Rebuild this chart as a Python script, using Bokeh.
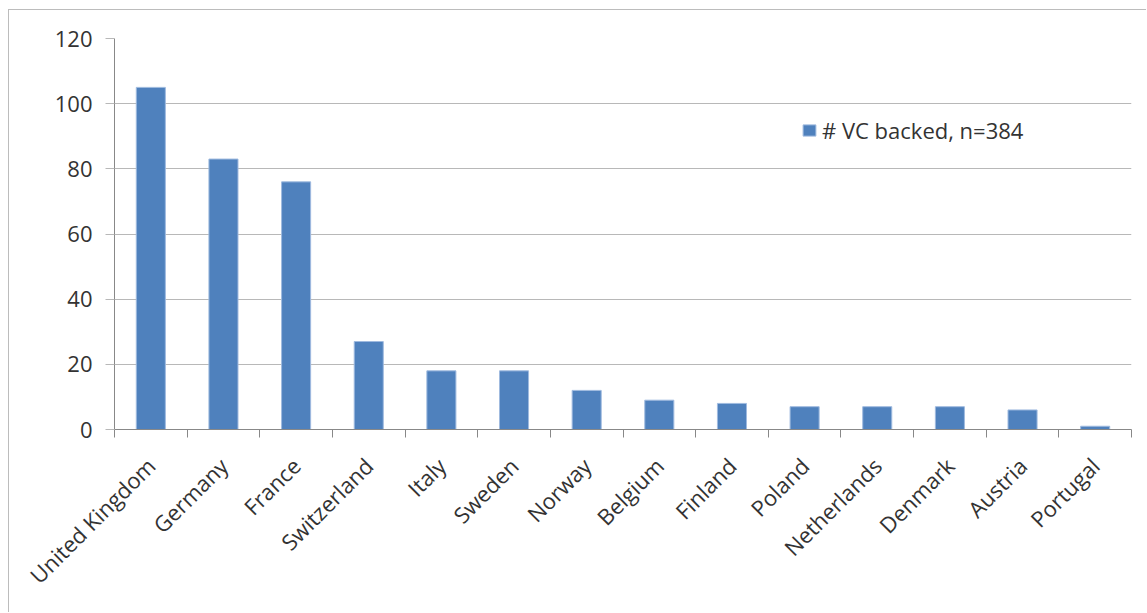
import math
from bokeh.plotting import figure
from bokeh.models import Range1d, FixedTicker, Legend, LegendItem, ColumnDataSource
from bokeh.embed import file_html
from bokeh.resources import INLINE

countries = ["United Kingdom", "Germany", "France", "Switzerland", "Italy", "Sweden",
             "Norway", "Belgium", "Finland", "Poland", "Netherlands", "Denmark",
             "Austria", "Portugal"]
vc_backed = [105, 83, 76, 27, 18, 18, 12, 9, 8, 7, 7, 7, 6, 1]
y_ticks = [0, 20, 40, 60, 80, 100, 120]
series_name = "# VC backed, n=384"

FONT = "Open Sans"
TXT = "#333333"
AXIS = "#888888"
GRID = "#b8b8b8"

n = len(countries)
pos = [i + 0.5 for i in range(n)]
src = ColumnDataSource(dict(x=pos, top=vc_backed, country=countries))

p = figure(width=1138, height=603, x_range=Range1d(0, n), y_range=Range1d(0, 120),
           output_backend="svg", toolbar_location=None,
           min_border_left=105, min_border_top=28, min_border_right=16, min_border_bottom=184)
p.styles = {"margin-left": "8px", "margin-top": "9px",
            "border-left": "1px solid #bcbcbc", "border-top": "1px solid #bcbcbc"}

r = p.vbar(x="x", top="top", width=0.4, source=src,
           fill_color="#4f81bd", line_color="#9fbadf", line_width=1)

p.outline_line_color = None
p.background_fill_color = "white"
p.border_fill_color = "white"

# y axis
p.yaxis.ticker = FixedTicker(ticks=y_ticks)
p.yaxis.axis_line_color = AXIS
p.yaxis.major_tick_line_color = GRID
p.yaxis.major_tick_in = 0
p.yaxis.major_tick_out = 9
p.yaxis.minor_tick_line_color = None
p.yaxis.major_label_standoff = 13
p.yaxis.major_label_text_font = FONT
p.yaxis.major_label_text_font_size = "22px"
p.yaxis.major_label_text_color = TXT
p.ygrid.grid_line_color = GRID
p.ygrid.ticker = FixedTicker(ticks=y_ticks)
p.xgrid.grid_line_color = None

# x axis: labels at category centres, tick marks at category boundaries
p.xaxis.ticker = FixedTicker(ticks=pos, minor_ticks=list(range(n + 1)))
p.xaxis.major_label_overrides = {x: c for x, c in zip(pos, countries)}
p.xaxis.axis_line_color = AXIS
p.xaxis.major_tick_line_color = None
p.xaxis.minor_tick_line_color = AXIS
p.xaxis.minor_tick_in = 0
p.xaxis.minor_tick_out = 8
p.xaxis.major_label_orientation = math.pi / 4
p.xaxis.major_label_standoff = 24
p.xaxis.major_label_text_font = FONT
p.xaxis.major_label_text_font_size = "22px"
p.xaxis.major_label_text_color = TXT

legend = Legend(items=[LegendItem(label=series_name, renderers=[r])],
                location=(687, 284), padding=0, margin=0, spacing=0,
                glyph_width=16, glyph_height=14, label_standoff=5,
                border_line_color=None, background_fill_alpha=0,
                label_text_font=FONT, label_text_font_size="22px",
                label_text_color=TXT)
p.add_layout(legend)

open("out.html", "w").write(file_html(p, INLINE))
